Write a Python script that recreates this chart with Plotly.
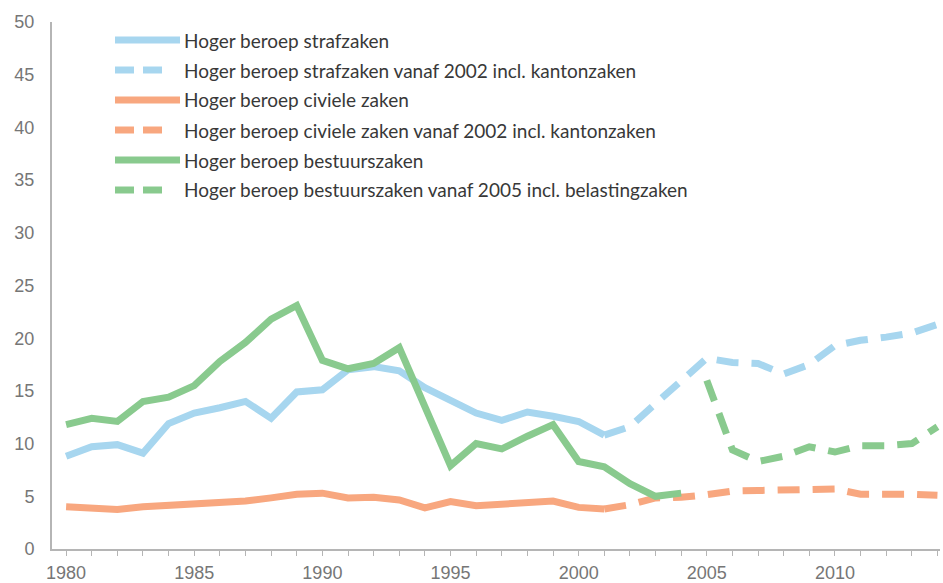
import plotly.graph_objects as go

years_solid = list(range(1980, 2002))
straf_solid = [8.8, 9.7, 9.9, 9.1, 11.9, 12.9, 13.4, 14.0, 12.4, 14.9, 15.1, 17.0, 17.3, 16.9, 15.3, 14.1, 12.9, 12.2, 13.0, 12.6, 12.1, 10.8]
civiel_solid = [4.0, 3.95, 3.75, 4.0, 4.15, 4.25, 4.3, 4.55, 4.85, 5.2, 5.3, 4.85, 4.9, 4.65, 3.9, 4.5, 4.1, 4.25, 4.35, 4.55, 3.95, 3.8]

years_dash = list(range(2001, 2015))
straf_dash = [10.8, 11.6, 13.8, 15.9, 18.1, 17.7, 17.6, 16.6, 17.5, 19.3, 19.8, 20.1, 20.5, 21.3]
civiel_dash = [3.8, 4.2, 4.85, 4.9, 5.15, 5.5, 5.55, 5.65, 5.75, 5.7, 5.2, 5.25, 5.2, 5.1]

years_best_solid = list(range(1980, 2005))
best_solid = [11.8, 12.4, 12.1, 14.0, 14.4, 15.5, 17.8, 19.6, 21.8, 23.1, 17.9, 17.1, 17.6, 19.1, 13.5, 7.9, 10.0, 9.5, 10.7, 11.8, 8.3, 7.8, 6.2, 5.0, 5.3]
years_best_dash = list(range(2005, 2015))
best_dash = [16.0, 9.4, 8.3, 8.8, 9.7, 9.2, 9.8, 9.8, 10.0, 11.6]

legend_labels = [
    "Hoger beroep strafzaken",
    "Hoger beroep strafzaken vanaf 2002 incl. kantonzaken",
    "Hoger beroep civiele zaken",
    "Hoger beroep civiele zaken vanaf 2002 incl. kantonzaken",
    "Hoger beroep bestuurszaken",
    "Hoger beroep bestuurszaken vanaf 2005 incl. belastingzaken",
]

BLUE = "#A7D6EF"
ORANGE = "#F8A77F"
GREEN = "#89CA8E"
DASH = "22px,13px"
LW = 7

series = [
    (years_solid, straf_solid, BLUE, "solid"),
    (years_dash, straf_dash, BLUE, DASH),
    (years_solid, civiel_solid, ORANGE, "solid"),
    (years_dash, civiel_dash, ORANGE, DASH),
    (years_best_solid, best_solid, GREEN, "solid"),
    (years_best_dash, best_dash, GREEN, DASH),
]

fig = go.Figure()
for (xs, ys, col, dash), name in zip(series, legend_labels):
    fig.add_trace(go.Scatter(x=xs, y=ys, mode="lines", name=name, showlegend=False,
                             line=dict(color=col, width=LW, dash=dash)))

# custom legend (paper coordinates)
W, H = 943, 583
L, R, T, B = 52, 3, 22, 34
pw, ph = W - L - R, H - T - B
def px(x): return (x - L) / pw
def py(y): return (H - B - y) / ph

row_y = [40, 70, 100, 130, 160, 190]
cols = [BLUE, BLUE, ORANGE, ORANGE, GREEN, GREEN]
shapes = []
annotations = []
for i, (lab, col, yy) in enumerate(zip(legend_labels, cols, row_y)):
    if i % 2 == 0:
        segs = [(115, 180)]
    else:
        segs = [(115, 134), (143, 162)]
    for a, b in segs:
        shapes.append(dict(type="line", xref="paper", yref="paper", x0=px(a), x1=px(b),
                           y0=py(yy), y1=py(yy), line=dict(color=col, width=LW)))
    annotations.append(dict(xref="paper", yref="paper", x=px(182), y=py(yy), text=lab,
                            showarrow=False, xanchor="left", yanchor="middle",
                            font=dict(family="Lato", size=19, color="#383838")))

fig.update_layout(
    width=W, height=H,
    margin=dict(l=L, r=R, t=T, b=B),
    plot_bgcolor="white", paper_bgcolor="white",
    shapes=shapes, annotations=annotations,
    font=dict(family="Liberation Sans, Arial", size=18, color="#767676"),
)
fig.update_xaxes(range=[1979.45, 2014.1], tickmode="linear", tick0=1980, dtick=5,
                 ticks="outside", ticklen=5, tickcolor="#b5b5b5", tickwidth=1,
                 minor=dict(dtick=1, tick0=1980, ticks="outside", ticklen=5, tickcolor="#b5b5b5"),
                 showline=True, linecolor="#b5b5b5", linewidth=2, showgrid=False, zeroline=False,
                 automargin=False, ticklabelstandoff=1, tickfont=dict(size=18, color="#767676"))
fig.update_yaxes(range=[0, 50], tickmode="linear", tick0=0, dtick=5, showline=True,
                 linecolor="#b5b5b5", linewidth=2, showgrid=False, zeroline=False,
                 automargin=False, ticks="", ticklabelstandoff=12, tickfont=dict(size=18, color="#767676"))

fig.write_html("out.html", config={"displayModeBar": False},
               post_script="document.body.style.margin='0';document.body.style.overflow='hidden';")
